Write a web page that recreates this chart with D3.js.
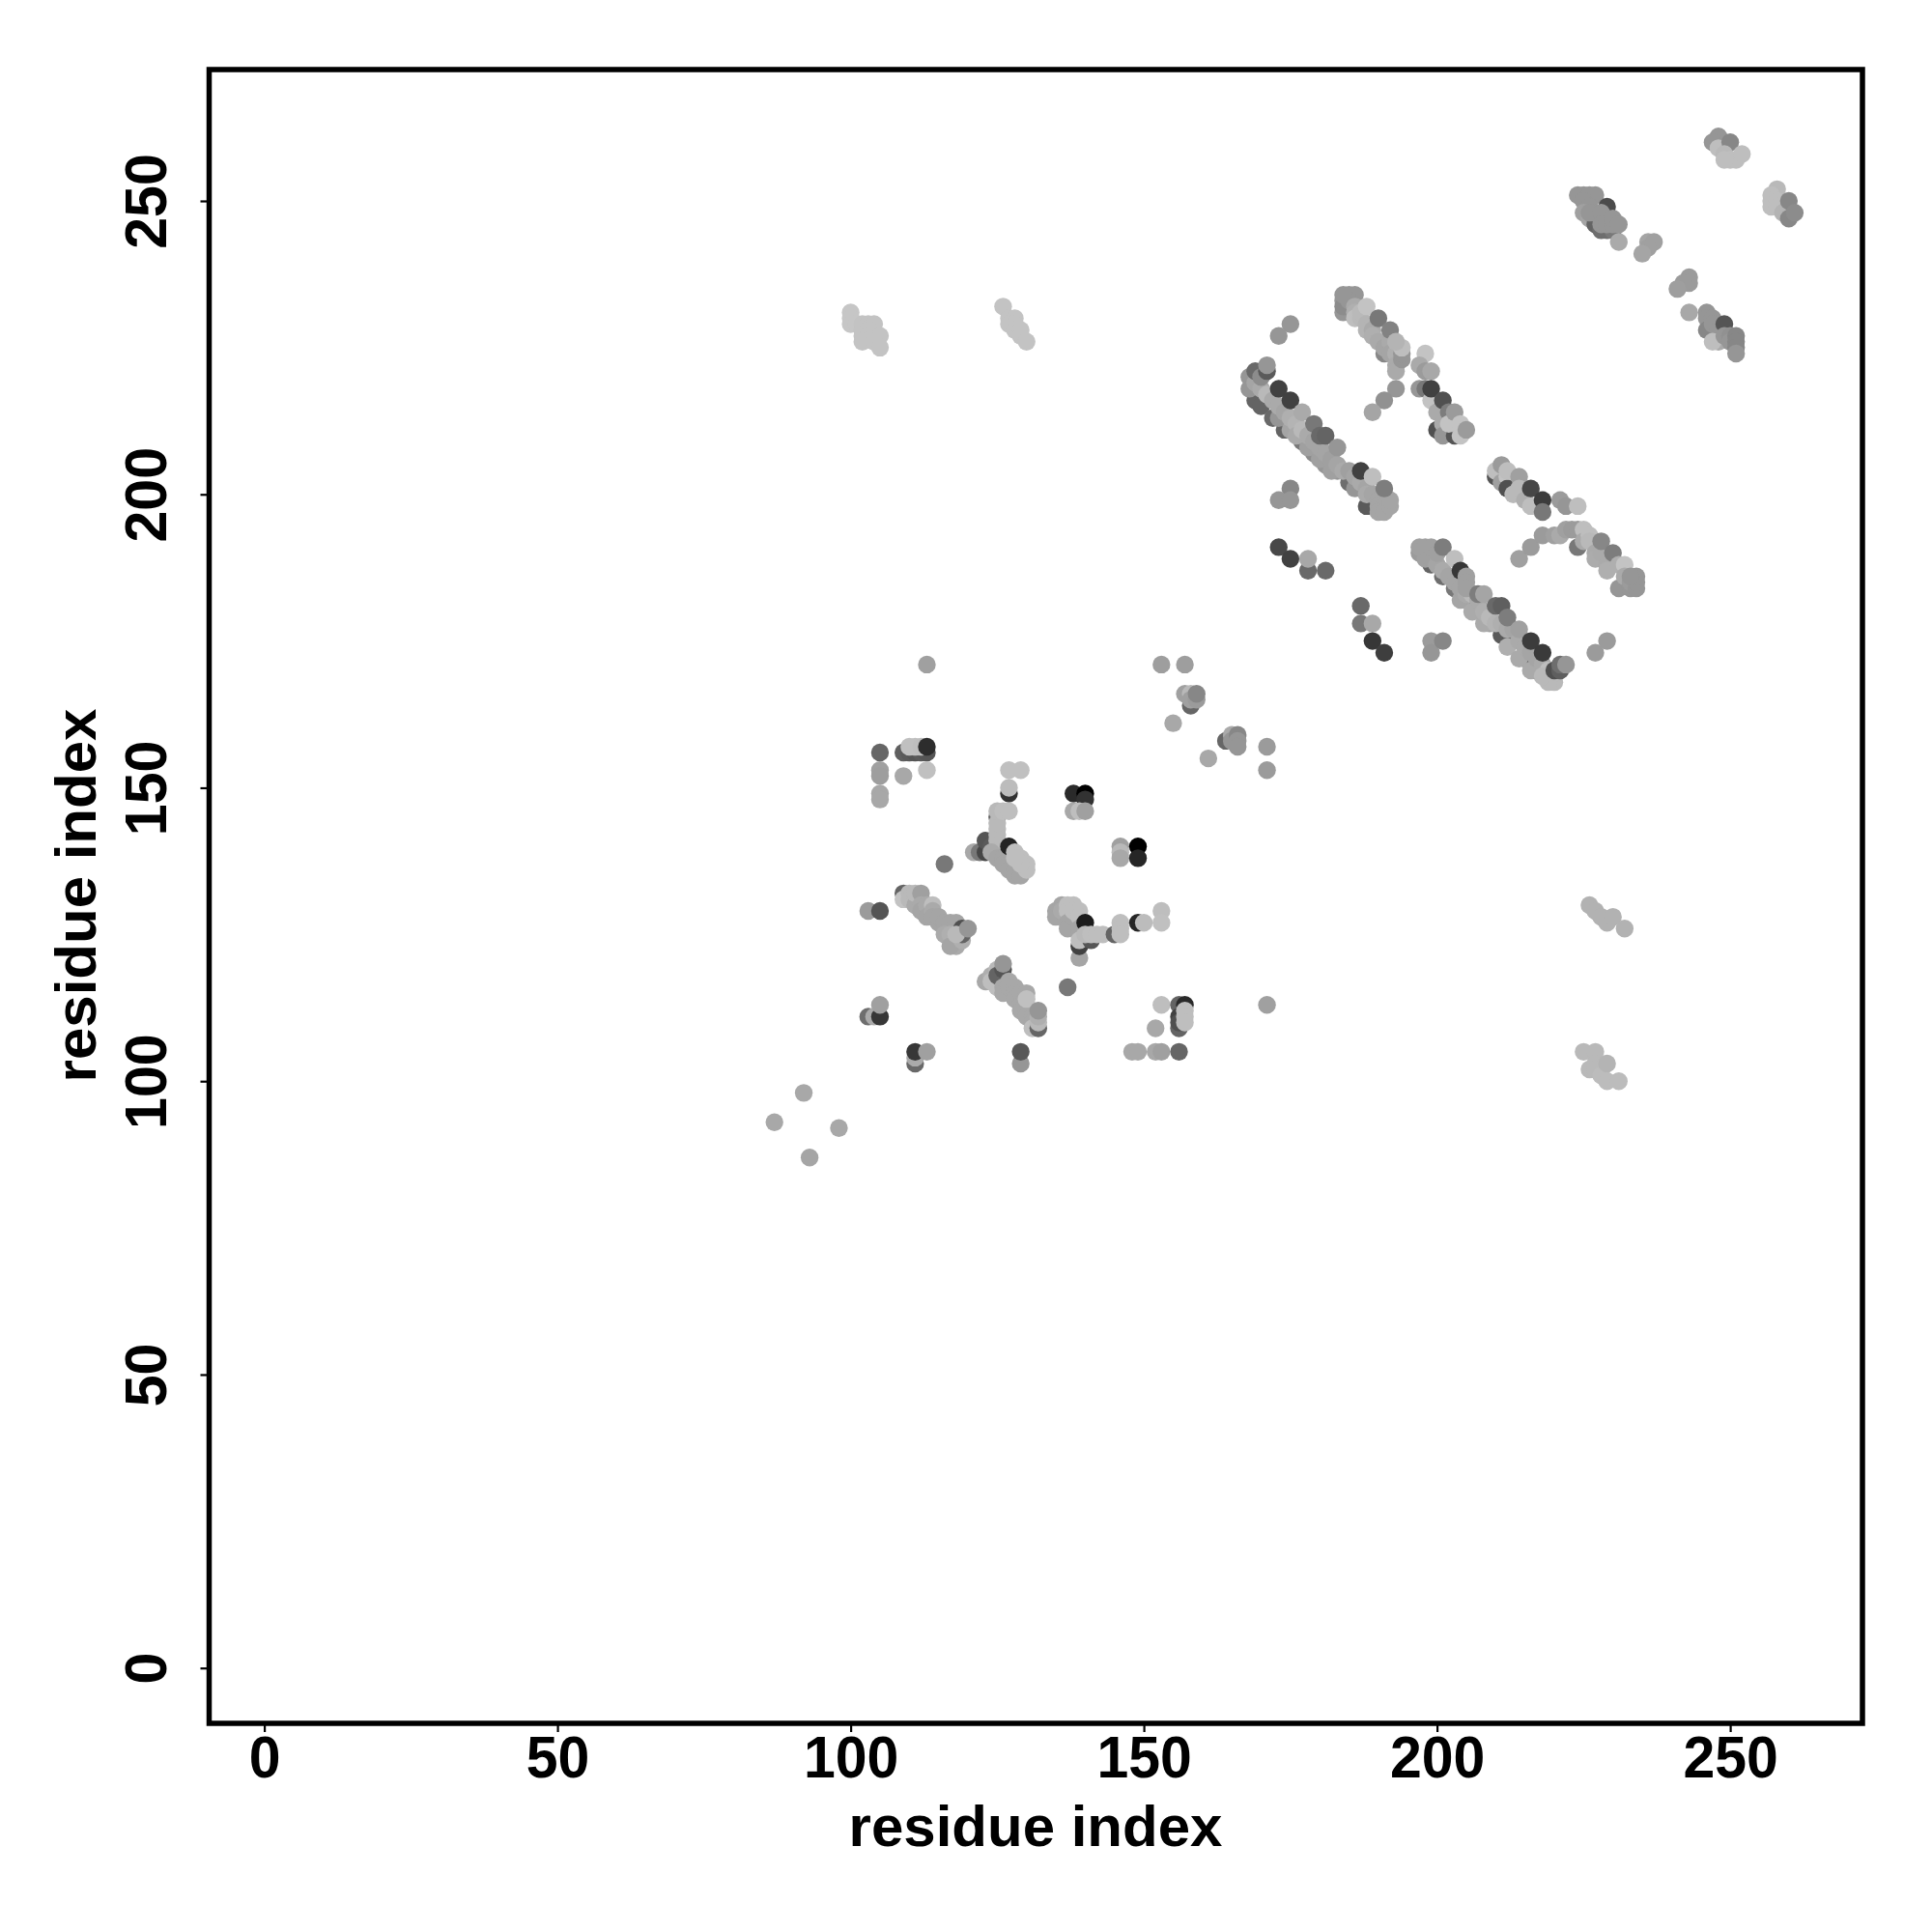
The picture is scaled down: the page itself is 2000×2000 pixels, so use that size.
<!DOCTYPE html>
<html><head><meta charset="utf-8">
<script src="https://cdn.jsdelivr.net/npm/d3@7/dist/d3.min.js"></script>
<style>html,body{margin:0;background:#fff}</style></head><body>
<svg id="c" width="2000" height="2000"></svg>
<script>
const tickValues=[0,50,100,150,200,250];
const axisLabel="residue index";
// each point: [residue x, residue y, grey level]
const lowerTail=[[92,98,168],[87,93,168],[98,92,168],[93,87,165]];
const blockTopLeft=[[105,156,102],[105,153,160],[105,152,158],[105,149,168],[105,148,168],[109,152,168],[109,156,95],[110,156,90],[111,156,85],[112,156,90],[113,156,85],[110,157,192],[111,157,192],[112,157,190],[113,157,45],[113,153,192],[113,171,160]];
const blockArm=[[116,137,120],[121,139,168],[122,139,120],[123,139,70],[123,141,85],[124,140,90],[125,139,150],[125,145,100],[127,149,50],[127,153,192],[129,153,192],[127,150,188],[125,141,185],[125,142,185],[125,143,185],[125,144,185],[125,146,185],[126,146,190],[127,146,190],
[124,139,170],[125,138,165],[126,138,165],[126,137,165],[127,137,165],[127,136,165],[128,136,165],[128,135,165],[129,135,165],[127,140,35],[128,139,190],[129,138,190],[130,137,190],[130,136,190],[129,137,190],[128,138,190]];
const blockBlack=[[138,149,42],[140,149,0],[140,148,50],[138,146,168],[139,146,190],[140,146,160],[146,140,160],[146,139,185],[146,138,168],[149,140,0],[149,138,38]];
const blockLeft=[[109,132,100],[109,131,195],[110,132,185],[110,131,185],[111,131,185],[111,130,170],[111,132,185],[112,132,160],[112,130,170],[112,129,165],[113,130,170],[113,128,165],[114,130,190],[114,129,170],[114,128,165],[115,127,165],[115,128,165],[116,127,165],[117,127,165],[118,127,165],[116,125,170],[117,125,175],[118,124,180],[118,123,170],[117,123,165],[119,124,175],[119,126,80],[119,125,100],[118,125,185],[120,126,150],[103,129,155],[105,129,85]];
const blockCentre=[[135,129,165],[135,128,165],[136,130,165],[136,129,170],[137,130,190],[137,129,190],[137,127,165],[137,126,165],[138,128,165],[138,130,190],[138,129,190],[139,129,190],[139,128,190],[139,126,165],[139,125,165],[140,126,165],[139,121,165],[139,123,65],[139,124,190],[141,124,85],[140,127,28],[140,125,185],[141,125,190],[142,125,190],[143,125,190],[145,125,100],[146,127,190],[146,126,190],[146,125,190],[149,127,38],[150,127,188],[153,129,190],[153,127,192]];
const blockBelow=[[123,117,168],[124,118,175],[124,117,190],[125,119,185],[125,116,190],[125,118,100],[126,119,85],[126,120,150],[126,116,168],[126,115,168],[127,117,168],[127,116,168],[128,116,168],[128,115,168],[128,114,168],[129,115,168],[129,113,168],[129,112,168],[130,115,168],[130,112,168],[130,111,168],[131,111,168],[131,110,168],[130,114,192],[131,109,190],[132,109,102],[132,110,185],[132,111,175],[132,112,150]];
const blockBottom=[[103,111,110],[104,111,170],[105,111,55],[105,113,160],[111,103,105],[111,104,170],[111,105,55],[113,105,160],[129,103,150],[129,105,88],[137,116,120],[153,113,190],[156,113,100],[156,111,65],[156,109,100],[156,110,80],[157,113,42],[157,112,190],[157,111,190],[157,110,190],[152,109,168],[148,105,168],[149,105,168],[152,105,168],[153,105,160],[156,105,102],[171,113,160]];
const blockRight=[[153,171,158],[157,171,158],[155,161,168],[158,164,102],[157,166,160],[158,166,185],[158,165,160],[159,165,155],[159,166,135],[161,155,168],[164,158,102],[165,159,170],[165,158,150],[166,159,135],[166,158,150],[166,157,150],[171,157,155],[171,153,155]];
const farFaint=[[100,231,198],[100,230,198],[100,229,198],[101,229,198],[102,229,195],[103,229,195],[104,229,195],[102,228,195],[103,228,195],[102,227,195],[103,227,195],[104,227,195],[105,227,195],[102,226,195],[104,226,195],[105,225,195],
[126,232,195],[127,230,195],[128,230,195],[127,229,195],[128,229,195],[128,228,195],[129,228,195],[129,227,195],[130,226,195],
[226,130,178],[227,129,178],[228,128,178],[229,127,178],[230,128,178],[232,126,178],
[225,105,185],[227,105,185],[226,102,185],[227,103,185],[227,102,185],[228,101,188],[229,103,180],[229,100,188],[231,100,188]];
const topRight=[[248,261,150],[247,260,150],[249,259,190],[248,259,190],[250,260,135],[249,258,185],[250,257,190],[251,257,190],[249,257,190],[252,258,190],
[258,252,185],[257,251,190],[257,250,190],[257,249,190],[258,250,190],[258,249,190],[259,248,180],[260,247,135],[260,250,135],[261,248,140]];
const strandFar=[[224,251,150],[225,251,150],[226,251,150],[227,251,150],[225,250,150],[226,249,150],[225,248,160],[226,247,165],[227,246,100],[228,245,110],[229,245,110],[229,249,75],[228,247,140],[227,248,150],[230,245,120],[226,248,150],[228,248,150],[228,246,150],[229,246,150],[230,246,150],[230,247,150],[231,246,150],[231,243,170],
[236,243,165],[237,243,160],[236,242,160],[235,241,165],[243,237,155],[243,236,155],[242,236,155],[241,235,158],[243,231,168],
[246,231,150],[246,230,150],[247,230,150],[246,228,135],[247,229,150],[248,228,150],[248,226,170],[247,226,190],[249,229,85],[249,227,150],[250,227,145],[250,226,150],[251,227,135],[251,226,135],[251,225,135],[251,224,150]];
const bandUpper=[[184,231,150],[184,233,150],[184,232,140],[185,234,150],[186,234,150],[185,233,150],[184,234,150],[186,232,170],[186,231,175],[186,230,190],[187,230,185],[187,231,185],[188,232,195],[188,229,180],[188,228,180],[189,228,170],[189,227,175],[190,226,170],[191,224,135],[190,230,120],[191,225,165],[192,226,170],[192,228,130],[192,224,165],[193,224,175],[193,222,170],[193,221,170],[194,223,150],[194,224,150],[194,225,190],[193,226,180],[193,218,150],[191,216,145],[189,214,165]];
const bandSide=[[198,224,195],[197,222,170],[198,221,155],[199,221,168],[197,218,150],[198,218,120],[199,216,195],[200,214,170],[199,218,65],[201,216,80],[200,211,80],[201,212,170],[201,210,150],[202,214,125],[203,210,85],[202,212,195],[203,214,155],[204,210,195],[204,212,195],[205,211,155]];
const bandLong=[[169,216,100],[170,215,100],[172,213,105],[174,211,100],[177,209,120],[179,207,140],[181,205,150],[183,204,150],[185,202,110],[186,201,150],[188,198,90],
[173,213,150],[175,211,165],[178,208,160],[180,206,160],[182,204,160],
[168,220,150],[168,218,150],[169,219,165],[170,218,170],[171,217,185],[172,216,170],[173,215,170],[174,214,165],[175,213,175],[176,212,180],[176,210,170],[177,211,185],[178,210,170],[179,209,165],[180,208,165],[181,207,165],[182,206,160],[183,205,165],[184,204,170],[185,204,160],[186,203,165],[187,202,170],[188,201,165],[188,200,170],[189,200,165],[190,199,165],[190,198,165],[191,198,165],[190,197,165],[191,197,165],[192,198,165],[192,199,165],
[169,221,105],[170,220,140],[171,221,90],[171,222,150],[173,218,65],[175,216,65],[177,214,170],[179,212,120],[180,210,105],[181,210,100],[183,208,150],[187,204,65],[189,203,190],[191,201,125]];
const bandSmall=[[175,229,150],[173,227,150],[175,201,135],[173,199,150],[175,199,150],[173,191,72],[175,189,65],[178,187,105],[178,189,168],[181,187,105],[187,181,105],[187,178,120],[189,178,168],[189,175,55],[191,173,62],[199,175,155],[199,173,150],[201,175,135],[227,173,155],[229,175,155]];
const bandLower=[[199,188,100],[201,186,110],[203,184,120],[205,182,170],[207,181,110],[209,178,160],[211,176,90],[213,175,100],[215,172,90],[217,170,85],[219,169,100],
[204,182,165],[206,180,170],[208,178,170],[212,174,175],[214,172,170],[216,170,170],
[197,190,155],[198,189,160],[199,189,160],[200,188,165],[201,187,170],[202,186,165],[203,185,165],[204,184,165],[205,183,170],[206,183,185],[207,182,170],[208,180,175],[209,179,185],[210,178,180],[211,178,175],[212,177,170],[213,177,165],[214,175,170],[215,174,170],[216,173,165],[217,172,165],[218,171,170],[219,170,190],[220,168,185],[219,168,185],[218,169,185],
[197,191,160],[198,191,160],[199,191,160],[200,190,160],[201,191,125],[203,189,190],[204,187,55],[205,186,160],[205,185,160],[205,184,160],[207,183,125],[208,183,165],[210,181,105],[211,181,95],[212,179,125],[214,177,160],[216,175,60],[218,173,58],[220,170,80],[221,170,95],[221,171,110],[222,171,150]];
const bandBranch=[[210,203,85],[210,204,190],[211,202,160],[212,203,195],[212,201,80],[211,205,155],[212,204,190],[213,200,185],[214,203,160],[214,201,185],[215,199,175],[216,198,190],[216,201,70],[218,199,60],[218,197,120],[221,199,155],[222,198,150],[224,198,190]];
const bandArc=[[214,189,160],[216,191,155],[218,193,155],[220,193,160],[221,193,170],[222,194,160],[223,194,155],[224,191,120],[224,194,155],[225,194,190],[225,192,170],[226,193,190],[226,192,185],[227,190,170],[227,189,172],[228,190,170],[228,192,135],[229,188,170],[229,187,175],[230,190,125],[231,188,175],[231,184,150],[232,188,195],[232,186,170],[233,184,150],[233,185,155],[234,184,150],[234,185,150],[234,186,150],[233,186,150]];

const groups=[lowerTail,blockTopLeft,blockArm,blockBlack,blockLeft,blockCentre,blockBelow,blockBottom,blockRight,farFaint,topRight,strandFar,bandUpper,bandSide,bandLong,bandSmall,bandLower,bandBranch,bandArc];

const x=d3.scaleLinear().domain([0,250]).range([273.6,1791.1]);
const y=d3.scaleLinear().domain([0,250]).range([1726.7,208]);
const grey=d3.scaleLinear().domain([0,255]).range(["#000","#fff"]);
const L=216.5,R=1928,T=72,B=1784;
const svg=d3.select("#c");
svg.append("rect").attr("width",2000).attr("height",2000).attr("fill","#fff");
const font="'Liberation Sans',Arial,sans-serif";
svg.append("g").selectAll("circle").data(groups.flat()).join("circle")
 .attr("cx",d=>x(d[0])).attr("cy",d=>y(d[1])).attr("r",9.2).attr("fill",d=>grey(d[2]));
svg.append("rect").attr("x",L).attr("y",T).attr("width",R-L).attr("height",B-T).attr("fill","none").attr("stroke","#000").attr("stroke-width",5.5);
const ax=svg.append("g").attr("transform",`translate(0,${B})`).call(d3.axisBottom(x).tickValues(tickValues).tickSize(9).tickPadding(0).tickFormat(d3.format("d")));
ax.select(".domain").remove();
ax.selectAll("line").attr("stroke","#000").attr("stroke-width",2.2);
ax.selectAll("text").attr("font-family",font).attr("font-weight","bold").attr("font-size",62).attr("fill","#000").attr("dy",null).attr("y",56)
 .attr("textLength",d=>String(d).length*32.8).attr("lengthAdjust","spacingAndGlyphs");
const ay=svg.append("g").attr("transform",`translate(${L},0)`).call(d3.axisLeft(y).tickValues(tickValues).tickSize(9).tickFormat(d3.format("d")));
ay.select(".domain").remove();
ay.selectAll("line").attr("stroke","#000").attr("stroke-width",2.2);
ay.selectAll("text").attr("font-family",font).attr("font-weight","bold").attr("font-size",62).attr("fill","#000").attr("dy",null).attr("x",null)
 .attr("text-anchor","middle").attr("transform","translate(-45,0) rotate(-90)")
 .attr("textLength",d=>String(d).length*32.8).attr("lengthAdjust","spacingAndGlyphs");
svg.append("text").text(axisLabel).attr("x",1072).attr("y",1911).attr("text-anchor","middle").attr("font-family",font).attr("font-weight","bold").attr("font-size",60);
svg.append("text").text(axisLabel).attr("transform","translate(99,927) rotate(-90)").attr("text-anchor","middle").attr("font-family",font).attr("font-weight","bold").attr("font-size",60);
</script></body></html>
